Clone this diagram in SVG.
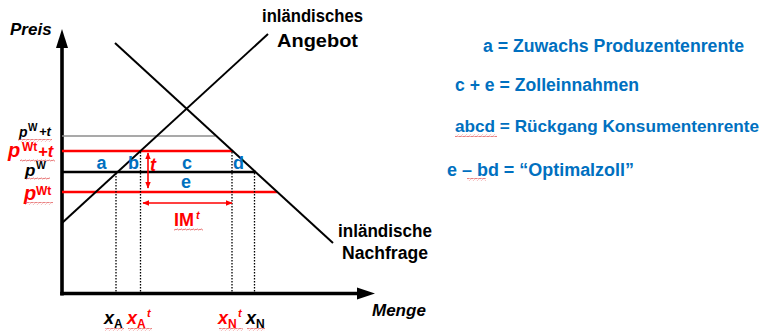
<svg xmlns="http://www.w3.org/2000/svg" width="764" height="331" viewBox="0 0 764 331">
  <style>
    .axis { stroke: #000; stroke-width: 3.6; fill: none; }
    .curve { stroke: #000; stroke-width: 2; fill: none; }
    .price { stroke-width: 2.4; fill: none; }
    .red { stroke: #ff0000; }
    .blk { stroke: #000; }
    .gray { stroke: #8c8c8c; stroke-width: 1.4; fill: none; }
    .drop { stroke: #000; stroke-width: 1.3; stroke-dasharray: 1.5 1.5; fill: none; }
    .dim { stroke: #ff0000; stroke-width: 1.6; fill: none; marker-start: url(#redHead); marker-end: url(#redHead); }
    text { font-family: "Liberation Sans", Arial, sans-serif; font-weight: bold; }
    .it { font-style: italic; }
    .k { fill: #000; }
    .r { fill: #ff0000; }
    .b { fill: #0070c0; }
    .squiggle { fill: url(#wavy); }
  </style>
  <defs>
    <marker id="redHead" viewBox="0 0 10 10" refX="9" refY="5" markerWidth="7" markerHeight="7" markerUnits="userSpaceOnUse" orient="auto-start-reverse">
      <path d="M0 1 L10 5 L0 9 z" fill="#ff0000"/>
    </marker>
    <pattern id="wavy" width="4" height="3" patternUnits="userSpaceOnUse">
      <path d="M0 2.2 L1 0.8 L3 2.2 L4 0.8" stroke="#e04848" stroke-width="0.7" fill="none"/>
    </pattern>
  </defs>

  <!-- axes -->
  <g id="axes">
    <line class="axis" x1="62" y1="46" x2="62" y2="295.5"/>
    <polygon points="62,29 56,48 68,48" fill="#000"/>
    <line class="axis" x1="60.2" y1="293.5" x2="358" y2="293.5"/>
    <polygon points="375,293.5 357,287.5 357,299.5" fill="#000"/>
    <text class="it k" x="10" y="35" font-size="17">Preis</text>
    <text class="it k" x="372" y="316" font-size="17">Menge</text>
  </g>

  <!-- price levels -->
  <g id="price-lines">
    <line class="gray" x1="62" y1="136" x2="215" y2="136"/>
    <line class="price red" x1="62" y1="151" x2="233" y2="151"/>
    <line class="price blk" x1="62" y1="172" x2="256" y2="172"/>
    <line class="price red" x1="62" y1="192" x2="277" y2="192"/>
  </g>

  <!-- supply and demand -->
  <g id="supply">
    <line class="curve" x1="62" y1="223" x2="268" y2="34"/>
    <text class="k" x="262" y="22" font-size="18" textLength="101" lengthAdjust="spacingAndGlyphs">inländisches</text>
    <text class="k" x="277" y="47" font-size="18" textLength="81" lengthAdjust="spacingAndGlyphs">Angebot</text>
  </g>
  <g id="demand">
    <line class="curve" x1="115" y1="43" x2="333" y2="243"/>
    <text class="k" x="338" y="237" font-size="18" textLength="94" lengthAdjust="spacingAndGlyphs">inländische</text>
    <text class="k" x="342" y="259" font-size="18" textLength="86" lengthAdjust="spacingAndGlyphs">Nachfrage</text>
  </g>

  <!-- quantity drop lines and dimension arrows -->
  <g id="connectors">
    <line class="drop" x1="116" y1="173" x2="116" y2="292"/>
    <line class="drop" x1="140.5" y1="152" x2="140.5" y2="292"/>
    <line class="drop" x1="232" y1="152" x2="232" y2="292"/>
    <line class="drop" x1="254.5" y1="173" x2="254.5" y2="292"/>
    <line class="dim" x1="148" y1="153" x2="148" y2="188"/>
    <line class="dim" x1="143" y1="203" x2="232" y2="203"/>
  </g>

  <!-- price labels -->
  <g id="price-labels">
    <text class="it k" x="19" y="137" font-size="14">p</text>
    <text class="k" x="28" y="131" font-size="10">W</text>
    <text class="it k" x="39" y="136" font-size="13">+t</text>

    <text class="it r" x="8" y="157" font-size="20">p</text>
    <text class="r" x="22" y="151" font-size="12">Wt</text>
    <text class="it r" x="38" y="156.5" font-size="16.5">+t</text>

    <text class="it k" x="25" y="176" font-size="17">p</text>
    <text class="k" x="36" y="169" font-size="10.5">W</text>

    <text class="it r" x="24" y="200" font-size="20">p</text>
    <text class="r" x="36" y="195" font-size="12">Wt</text>
  </g>

  <!-- area letters -->
  <g id="areas">
    <text class="b" x="96.5" y="169" font-size="18">a</text>
    <text class="b" x="128" y="169" font-size="18">b</text>
    <text class="b" x="182" y="169" font-size="18">c</text>
    <text class="b" x="233" y="169" font-size="18">d</text>
    <text class="b" x="181" y="187.5" font-size="18">e</text>
    <text class="it r" x="150" y="171" font-size="18">t</text>
    <text class="r" x="174" y="226" font-size="18">IM</text>
    <text class="it r" x="196" y="219" font-size="11">t</text>
  </g>

  <!-- quantity labels -->
  <g id="quantity-labels">
    <text class="it k" x="104" y="324" font-size="18">x</text>
    <text class="k" x="114" y="328" font-size="12">A</text>
    <text class="it r" x="127" y="324" font-size="18">x</text>
    <text class="r" x="137" y="328" font-size="12">A</text>
    <text class="it r" x="147" y="317" font-size="11">t</text>
    <text class="it r" x="218" y="324" font-size="18">x</text>
    <text class="r" x="228" y="328" font-size="12">N</text>
    <text class="it r" x="238" y="317" font-size="11">t</text>
    <text class="it k" x="246" y="324" font-size="18">x</text>
    <text class="k" x="256" y="328" font-size="12">N</text>
  </g>

  <!-- legend -->
  <g id="legend">
    <text class="b" x="483" y="52" font-size="18" textLength="261" lengthAdjust="spacingAndGlyphs">a = Zuwachs Produzentenrente</text>
    <text class="b" x="455" y="91" font-size="18" textLength="184" lengthAdjust="spacingAndGlyphs">c + e = Zolleinnahmen</text>
    <text class="b" x="455" y="132" font-size="17" textLength="304" lengthAdjust="spacingAndGlyphs">abcd = Rückgang Konsumentenrente</text>
    <text class="b" x="447" y="176" font-size="18" textLength="187" lengthAdjust="spacingAndGlyphs">e – bd = “Optimalzoll”</text>
  </g>

  <!-- proofing underlines -->
  <g id="underlines">
    <rect class="squiggle" x="18" y="139" width="34" height="3"/>
    <rect class="squiggle" x="20" y="159" width="35" height="3"/>
    <rect class="squiggle" x="26" y="177" width="24" height="3"/>
    <rect class="squiggle" x="25" y="202" width="28" height="3"/>
    <rect class="squiggle" x="174" y="228" width="29" height="3"/>
    <rect class="squiggle" x="105" y="328" width="19" height="3"/>
    <rect class="squiggle" x="128" y="328" width="24" height="3"/>
    <rect class="squiggle" x="219" y="328" width="24" height="3"/>
    <rect class="squiggle" x="247" y="328" width="18" height="3"/>
    <rect class="squiggle" x="455" y="134" width="42" height="3"/>
    <rect class="squiggle" x="467" y="178" width="19" height="3"/>
  </g>
</svg>
